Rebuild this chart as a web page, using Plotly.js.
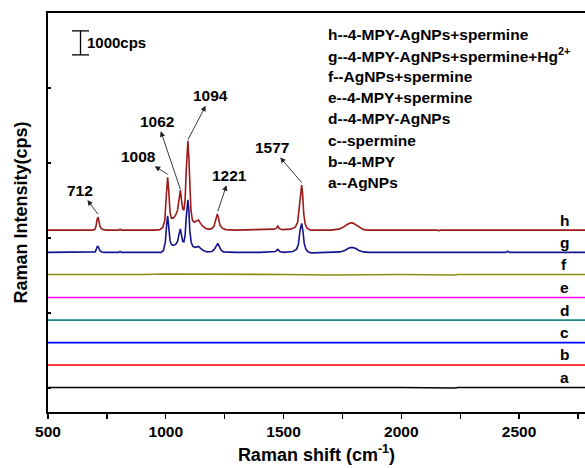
<!DOCTYPE html>
<html>
<head>
<meta charset="utf-8">
<script src="https://cdn.plot.ly/plotly-3.0.1.min.js"></script>
<style>html,body{margin:0;padding:0;background:#fff;}#chart{width:585px;height:468px;}</style>
</head>
<body>
<div id="chart"></div>
<script>
// ---------------- data ----------------
// sample labels (bottom to top) and legend descriptions
const sampleLetters = ['a','b','c','d','e','f','g','h'];
const sampleNames = ['a--AgNPs','b--4-MPY','c--spermine','d--4-MPY-AgNPs','e--4-MPY+spermine','f--AgNPs+spermine','g--4-MPY-AgNPs+spermine+Hg<sup>2+</sup>','h--4-MPY-AgNPs+spermine'];
// vertical stacking offsets of each spectrum (cps)
const offsets = [1020, 1960, 2890, 3830, 4770, 5730, 6650, 7580];

// spectrum h : 4-MPY-AgNPs+spermine
const shiftH = [500,560,620,690,700,704,708,712,716,720,726,735,750,800,806,812,950,975,988,996,1002,1008,1013,1018,1024,1032,1042,1050,1056,1062,1067,1072,1077,1082,1087,1091,1094,1098,1102,1107,1113,1120,1130,1139,1147,1156,1168,1180,1195,1205,1212,1219,1224,1230,1240,1255,1300,1400,1460,1470,1476,1482,1495,1530,1550,1560,1567,1572,1577,1581,1586,1592,1600,1615,1700,1735,1755,1770,1785,1795,1810,1825,1840,1860,1950,2000,2010,2150,2160,2170,2400,2780];
const intH =   [0,0,0,0,40,170,420,540,380,170,60,20,0,0,40,0,0,20,120,420,1380,2200,1580,750,500,500,620,830,1250,1670,1250,875,830,1250,2500,3500,3720,3000,1670,830,420,330,375,420,290,170,80,40,60,170,420,670,500,210,80,20,0,20,40,80,170,60,20,40,120,330,920,1580,1875,1500,670,250,80,0,0,40,125,230,300,290,210,100,20,0,0,20,0,0,-20,0,0,0];

// spectrum g : 4-MPY-AgNPs+spermine+Hg2+
const shiftG = [500,690,700,705,710,715,720,728,740,800,806,812,980,990,998,1004,1008,1013,1018,1024,1032,1042,1050,1056,1062,1067,1072,1077,1082,1087,1091,1094,1098,1102,1108,1115,1125,1139,1148,1160,1175,1195,1206,1214,1221,1227,1234,1245,1300,1400,1465,1476,1484,1500,1540,1555,1563,1570,1577,1582,1588,1595,1605,1620,1700,1740,1760,1775,1790,1805,1820,1840,1860,2440,2452,2462,2780];
const intG =   [0,0,20,125,270,210,80,20,0,0,40,0,0,80,420,1170,1520,1040,500,330,290,330,460,750,980,710,460,440,710,1460,2040,2190,1750,920,420,250,210,250,170,80,20,40,125,290,375,250,100,20,0,0,40,125,40,0,40,125,330,920,1210,920,375,125,20,-20,0,20,80,170,210,170,80,20,0,0,40,0,0];

// flat spectra a-f (shared Raman shift grid)
const shiftFlat = [500,620,640,660,740,760,900,1000,1010,1200,1400,1485,1500,1700,1870,1880,2000,2230,2240,2400,2600,2780];
const intA = [0,0,0,0,20,0,0,0,0,0,0,0,0,0,0,20,0,-20,0,0,0,0];
const intB = [0,0,-20,0,0,0,0,-20,0,0,-20,0,0,0,0,0,0,0,-20,0,0,0];
const intC = [0,0,0,0,0,0,0,0,0,0,0,0,0,0,0,0,0,-20,0,0,0,0];
const intD = [0,0,0,0,0,0,-20,0,0,0,0,0,0,0,0,0,0,-20,0,0,0,0];
const intE = [0,0,0,0,0,0,0,0,0,0,0,0,0,0,0,0,0,-30,0,0,0,0];
const intF = [0,0,-20,0,0,0,0,20,20,20,20,0,0,-20,0,0,0,-20,0,0,0,0];

// labelled peaks (cm-1) and their tops on spectrum h (cps above its baseline)
const peakLabels = ['712','1008','1062','1094','1221','1577'];
const peakShift = [712, 1008, 1062, 1094, 1221, 1577];
const peakTop = [540, 2200, 1580, 3720, 700, 1900];

const scaleBarCps = 1000;

// ---------------- drawing ----------------
const colors = ['#000000','#ff0000','#0000ff','#138a8a','#ff00ff','#8c8c14','#14148c','#9b1b1b'];
const shifts = [shiftFlat,shiftFlat,shiftFlat,shiftFlat,shiftFlat,shiftFlat,shiftG,shiftH];
const intens = [intA,intB,intC,intD,intE,intF,intG,intH];

const traces = shifts.map((xs, i) => ({
  type: 'scatter', mode: 'lines', x: xs,
  y: intens[i].map(v => v + offsets[i]),
  line: {color: colors[i], width: 1.6},
  name: sampleLetters[i], showlegend: false, hoverinfo: 'skip'
}));

const F = 'Liberation Sans, Arial, sans-serif';
const bold = (size) => ({family: F, size: size, color: '#000', weight: 'bold'});

const annotations = [];
// sample letters at right end
sampleLetters.forEach((s, i) => {
  annotations.push({x: 2692, y: offsets[i], xref: 'x', yref: 'y', text: s, showarrow: false,
    yshift: 10, font: bold(15.5)});
});
// description block
sampleNames.slice().reverse().forEach((s, k) => {
  annotations.push({x: (326-48)/537, y: (412 - (34 + 21.2*k))/399, xref: 'paper', yref: 'paper',
    text: s, showarrow: false, xanchor: 'left', yanchor: 'middle', font: bold(15.5)});
});
// peak labels with arrows pointing from the peak towards the label
const labelGeom = [ // [tail gap px, text dx, text dy] (pixels)
  [3, -18, -24],
  [3, -29, -18],
  [3, -23, -68],
  [1, 23, -44],
  [2, 12, -36],
  [2, -30, -35]
];
peakLabels.forEach((lab, i) => {
  const g = labelGeom[i];
  const yTop = offsets[7] + peakTop[i] + g[0]*41.67;
  annotations.push({x: peakShift[i], y: yTop, xref: 'x', yref: 'y', text: lab, showarrow: true,
    ax: g[1], ay: g[2], arrowside: 'start', startarrowhead: 2, startarrowsize: 1.2,
    arrowwidth: 0.9, arrowcolor: '#222', standoff: 0, startstandoff: 0,
    font: bold(15.5)});
});
// scale bar text
annotations.push({x: 655, y: 15380, xref: 'x', yref: 'y', text: scaleBarCps + 'cps', showarrow: false,
  xanchor: 'left', font: bold(15)});

const barX = 638, barY0 = 14880;
const shapes = [
  {type: 'line', xref: 'x', yref: 'y', x0: barX, x1: barX, y0: barY0, y1: barY0 + scaleBarCps, line: {color: '#000', width: 1.3}},
  {type: 'line', xref: 'x', yref: 'y', x0: barX - 36, x1: barX + 36, y0: barY0, y1: barY0, line: {color: '#000', width: 1.3}},
  {type: 'line', xref: 'x', yref: 'y', x0: barX - 36, x1: barX + 36, y0: barY0 + scaleBarCps, y1: barY0 + scaleBarCps, line: {color: '#000', width: 1.3}}
];

const layout = {
  width: 585, height: 468,
  margin: {l: 48, r: 0, t: 13, b: 56},
  paper_bgcolor: '#fff', plot_bgcolor: '#fff',
  showlegend: false,
  xaxis: {
    range: [500, 2780], tick0: 500, dtick: 500,
    ticks: 'outside', ticklen: 5, tickwidth: 1.3, tickcolor: '#000',
    minor: {ticks: 'outside', dtick: 250, tick0: 500, ticklen: 5, tickwidth: 1.3, tickcolor: '#000', showgrid: false},
    showline: true, linewidth: 1.6, linecolor: '#000', mirror: true,
    showgrid: false, zeroline: false,
    tickfont: bold(15.5),
    title: {text: 'Raman shift (cm<sup>-1</sup>)', font: bold(18), standoff: 9}
  },
  yaxis: {
    range: [0, 16625], tick0: 1000, dtick: 3125,
    ticks: 'inside', ticklen: 3, tickwidth: 1.2, tickcolor: '#000',
    showticklabels: false,
    showline: true, linewidth: 1.6, linecolor: '#000',
    showgrid: false, zeroline: false,
    title: {text: 'Raman Intensity(cps)', font: bold(18), standoff: 14}
  },
  annotations: annotations,
  shapes: shapes
};

Plotly.newPlot('chart', traces, layout, {displayModeBar: false, staticPlot: true});
</script>
</body>
</html>
